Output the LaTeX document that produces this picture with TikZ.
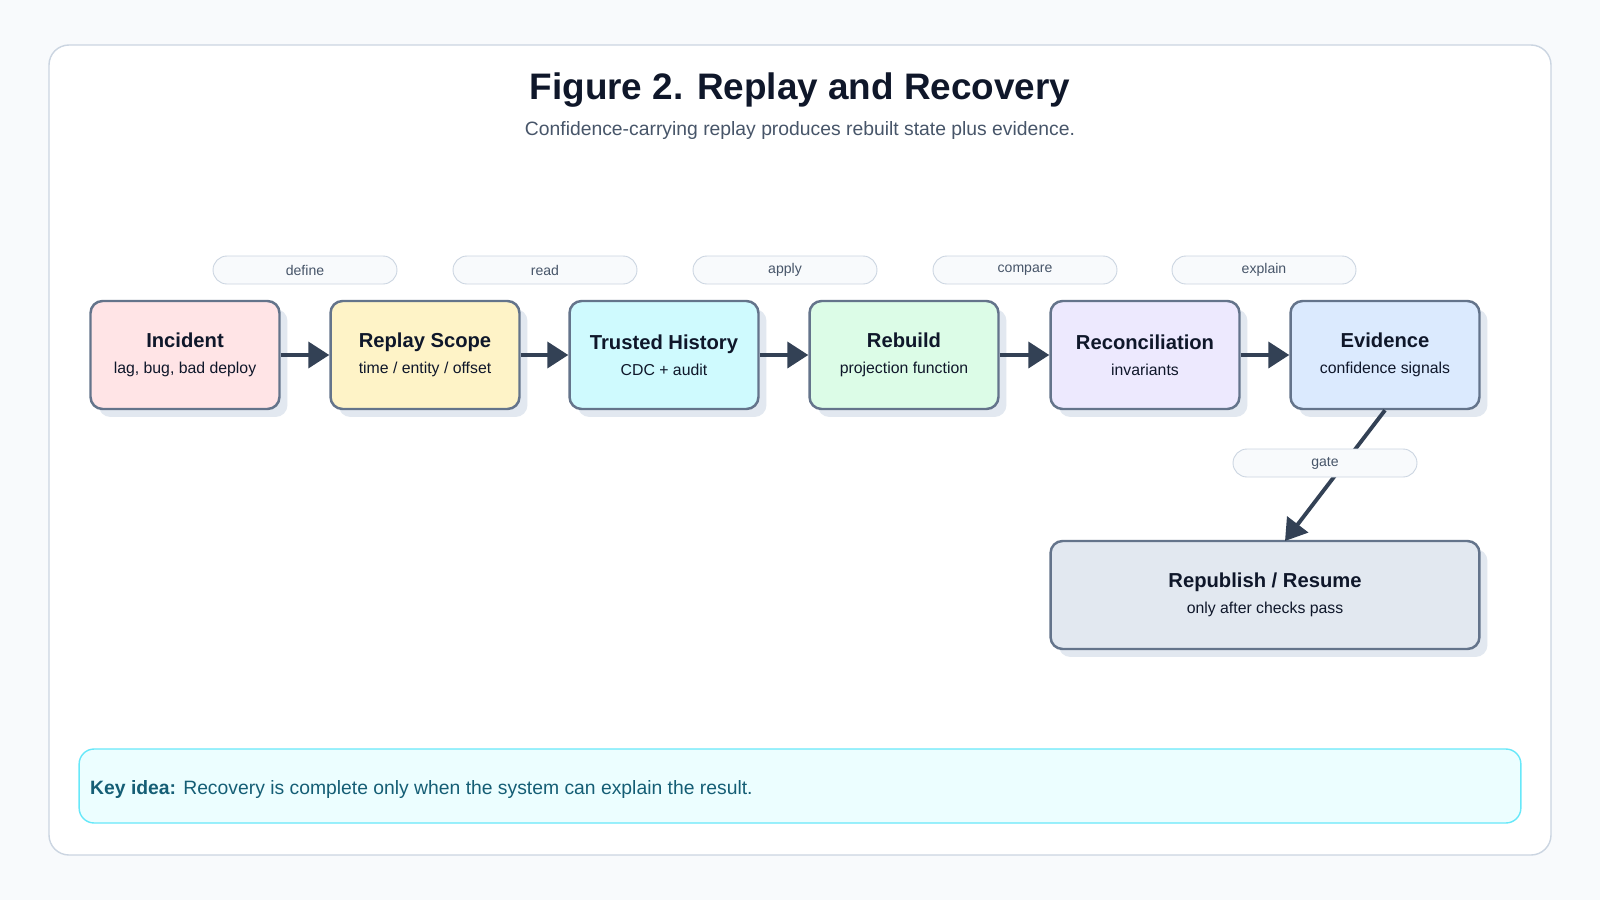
\documentclass[tikz,border=0pt]{standalone}
\usepackage{fontspec}
\setmainfont{Liberation Sans}
\usetikzlibrary{calc,shadows,arrows.meta}

\definecolor{pagebg}{HTML}{F8FAFC}
\definecolor{framegray}{HTML}{CBD5E1}
\definecolor{boxedge}{HTML}{64748B}
\definecolor{shadowgray}{HTML}{E2E8F0}
\definecolor{arrowdark}{HTML}{334155}
\definecolor{inktitle}{HTML}{0F172A}
\definecolor{inksub}{HTML}{475569}
\definecolor{incidentfill}{HTML}{FFE4E6}
\definecolor{scopefill}{HTML}{FEF3C7}
\definecolor{historyfill}{HTML}{CFFAFE}
\definecolor{rebuildfill}{HTML}{DCFCE7}
\definecolor{reconfill}{HTML}{EDE9FE}
\definecolor{evidencefill}{HTML}{DBEAFE}
\definecolor{resumefill}{HTML}{E2E8F0}
\definecolor{keyfill}{HTML}{ECFEFF}
\definecolor{keyedge}{HTML}{67E8F9}
\definecolor{keyink}{HTML}{155E75}

\newcommand{\boxtext}[2]{{\bfseries\fontsize{11.5}{14}\selectfont #1}\\[3pt]{\fontsize{9}{11}\selectfont #2}}

\tikzset{
  stagebox/.style={draw=boxedge, line width=1.4pt, rounded corners=0.24cm,
    minimum width=3.78cm, minimum height=2.16cm, align=center, text=inktitle,
    copy shadow={shadow xshift=0.16cm, shadow yshift=-0.16cm, draw=none, fill=shadowgray}},
  pill/.style={draw=framegray, fill=pagebg, rounded corners=0.28cm, line width=0.5pt,
    minimum width=3.68cm, minimum height=0.56cm, text=inksub, font=\fontsize{8}{10}\selectfont},
  flow/.style={draw=arrowdark, line width=2.2pt, -{Triangle[length=0.42cm,width=0.52cm]}}
}

\begin{document}
\begin{tikzpicture}[x=0.02cm,y=-0.02cm]

\fill[pagebg](0,0) rectangle (1600,900);
\filldraw[fill=white, draw=framegray, line width=0.8pt, rounded corners=0.4cm](49,45) rectangle (1551,855);

% title
\node[text=inktitle, font=\bfseries\fontsize{21}{25}\selectfont] (title) at (800,90) {Figure 2. Replay and Recovery};
\node[text=inksub, font=\fontsize{11}{13}\selectfont] (subtitle) at (800,130) {Confidence-carrying replay produces rebuilt state plus evidence.};

% stages
\node[stagebox, fill=incidentfill] (incident) at (185,355) {\boxtext{Incident}{lag, bug, bad deploy}};
\node[stagebox, fill=scopefill] (scope) at (425,355) {\boxtext{Replay Scope}{time / entity / offset}};
\node[stagebox, fill=historyfill] (history) at (664,355) {\boxtext{Trusted History}{CDC + audit}};
\node[stagebox, fill=rebuildfill] (rebuild) at (904,355) {\boxtext{Rebuild}{projection function}};
\node[stagebox, fill=reconfill] (recon) at (1145,355) {\boxtext{Reconciliation}{invariants}};
\node[stagebox, fill=evidencefill] (evidence) at (1385,355) {\boxtext{Evidence}{confidence signals}};
\node[stagebox, fill=resumefill, minimum width=8.58cm] (resume) at (1265,595) {\boxtext{Republish / Resume}{only after checks pass}};

% connectors
\draw[flow](incident)--(scope);
\draw[flow](scope)--(history);
\draw[flow](history)--(rebuild);
\draw[flow](rebuild)--(recon);
\draw[flow](recon)--(evidence);
\coordinate (gatein) at (1285,541);
\draw[flow](evidence.south)--(gatein);

% edge labels
\node[pill] (define) at (305,270) {define};
\node[pill] (read) at (545,270) {read};
\node[pill] (apply) at (785,270) {apply};
\node[pill] (compare) at (1025,270) {compare};
\node[pill] (explain) at (1264,270) {explain};
\node[pill] (gate) at (1325,463) {gate};

% key idea
\node[draw=keyedge, fill=keyfill, line width=0.8pt, rounded corners=0.3cm,
  minimum width=28.84cm, minimum height=1.48cm] (keybox) at (800,786) {};
\node[anchor=west, text=keyink, font=\fontsize{11}{13}\selectfont] (keytext) at (84,789)
  {\textbf{Key idea:} Recovery is complete only when the system can explain the result.};

\end{tikzpicture}
\end{document}
